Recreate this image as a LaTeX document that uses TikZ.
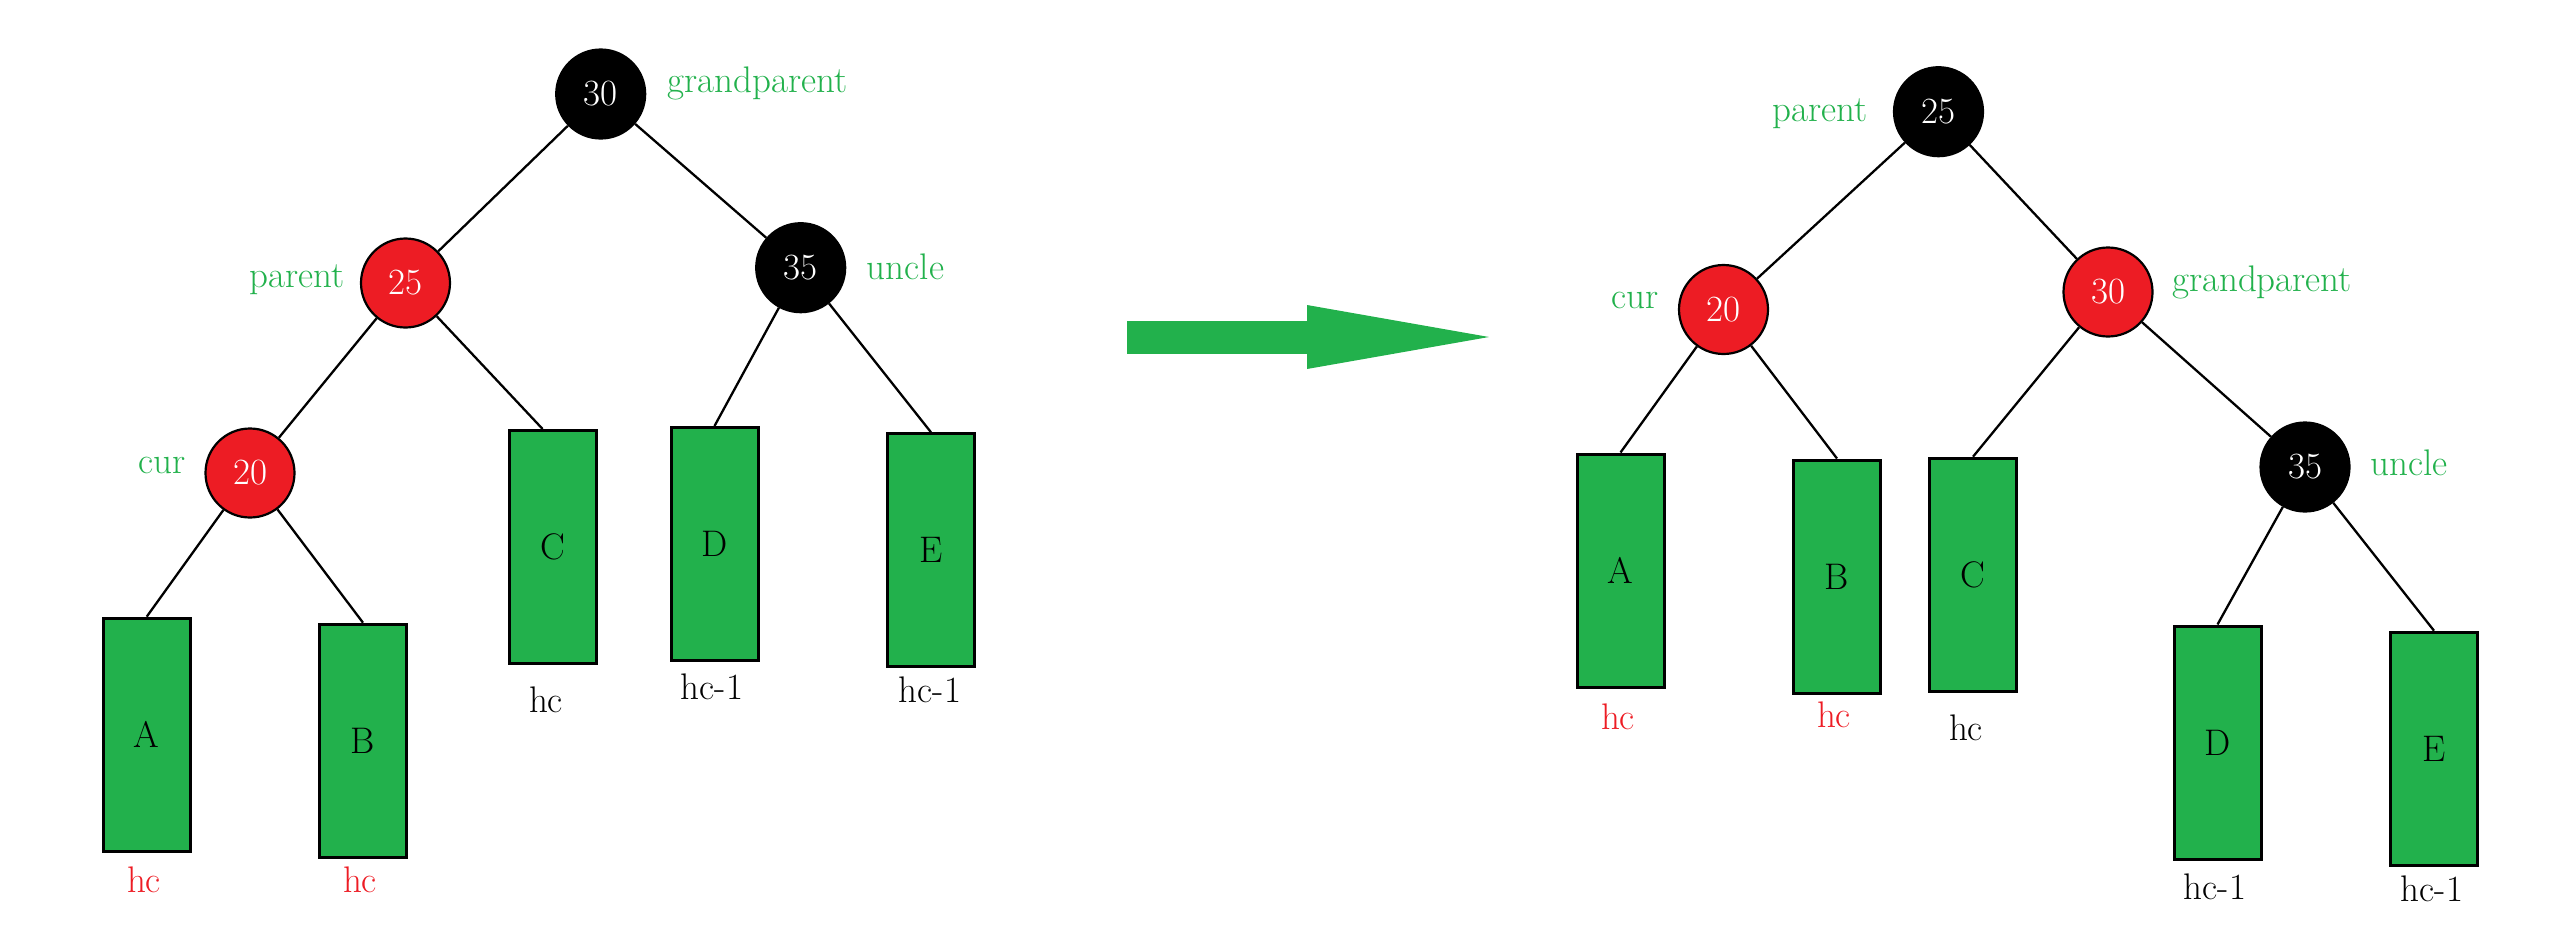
\documentclass[tikz,border=0pt]{standalone}
\usepackage{tikz}
\usetikzlibrary{arrows.meta}
\definecolor{rbred}{RGB}{237,28,36}
\definecolor{rbgreen}{RGB}{34,177,76}
\newcommand{\treefont}{\fontsize{37}{44}\selectfont}
\tikzset{
    rnode/.style={
        circle,
        draw,
        line width=2.2pt,
        fill=rbred,
        text=white,
        minimum size=89pt,
        inner sep=0pt,
        font=\treefont
    },
    bnode/.style={
        rnode,
        fill=black
    },
    sub/.style={
        draw,
        line width=3pt,
        fill=rbgreen,
        minimum width=87pt,
        minimum height=233pt,
        inner sep=0pt,
        font=\treefont
    },
    lbl/.style={text=rbgreen, inner sep=0pt, font=\treefont},
    hlbl/.style={inner sep=0pt, font=\treefont},
    link/.style={line width=2.3pt},
    bigarrow/.style={
        -{Triangle[length=182pt,width=64pt,line width=0pt]},
        line width=33pt,
        rbgreen
    }
}

\begin{document}
\begin{tikzpicture}[x=1pt,y=-1pt]
\useasboundingbox (0,0) rectangle (2573,943);

% before the rotation
\node[bnode] (g1) at (600.7,94) {30};
\node[rnode] (p1) at (405.5,283) {25};
\node[bnode] (u1) at (800.7,267.7) {35};
\node[rnode] (c1) at (250,473) {20};
\node[sub] (A1) at (146.7,734.7) {A};
\node[sub] (B1) at (363,740.7) {B};
\node[sub] (C1) at (552.6,547) {C};
\node[sub] (D1) at (714.5,544) {D};
\node[sub] (E1) at (931,550.3) {E};

\node[lbl] (g1l) at (757.5,83) {grandparent};
\node[lbl] (p1l) at (297.5,280) {parent};
\node[lbl] (u1l) at (905.5,266.7) {uncle};
\node[lbl] (c1l) at (161.7,465) {cur};

\node[hlbl, text=rbred] (A1h) at (144,880) {hc};
\node[hlbl, text=rbred] (B1h) at (360,880) {hc};
\node[hlbl] (C1h) at (546,700) {hc};
\node[hlbl] (D1h) at (712,687) {hc-1};
\node[hlbl] (E1h) at (930,690) {hc-1};

\draw[link] (g1) -- (p1);
\draw[link] (g1) -- (u1);
\draw[link] (p1) -- (c1);
\draw[link] (p1) -- ([xshift=-10pt]C1.north);
\draw[link] (c1) -- (A1.north);
\draw[link] (c1) -- (B1.north);
\draw[link] (u1) -- (D1.north);
\draw[link] (u1) -- (E1.north);

% rotation arrow
\coordinate (from) at (1127,337);
\coordinate (to) at (1489,337);
\draw[bigarrow] (from) -- (to);

% after the rotation
\node[bnode] (p2) at (1938.5,111.7) {25};
\node[rnode] (c2) at (1723.5,309.5) {20};
\node[rnode] (g2) at (2108,292) {30};
\node[bnode] (u2) at (2305,467) {35};
\node[sub] (A2) at (1620.5,570.5) {A};
\node[sub] (B2) at (1837,576.5) {B};
\node[sub] (C2) at (1973,574.7) {C};
\node[sub] (D2) at (2217.5,742.5) {D};
\node[sub] (E2) at (2434,748.7) {E};

\node[lbl] (p2l) at (1820,113.3) {parent};
\node[lbl] (c2l) at (1635,300) {cur};
\node[lbl] (g2l) at (2262,282) {grandparent};
\node[lbl] (u2l) at (2409,463.3) {uncle};

\node[hlbl, text=rbred] (A2h) at (1618,717) {hc};
\node[hlbl, text=rbred] (B2h) at (1834,715) {hc};
\node[hlbl] (C2h) at (1966,728) {hc};
\node[hlbl] (D2h) at (2215,887) {hc-1};
\node[hlbl] (E2h) at (2432,889) {hc-1};

\draw[link] (p2) -- (c2);
\draw[link] (p2) -- (g2);
\draw[link] (c2) -- (A2.north);
\draw[link] (c2) -- (B2.north);
\draw[link] (g2) -- (C2.north);
\draw[link] (g2) -- (u2);
\draw[link] (u2) -- (D2.north);
\draw[link] (u2) -- (E2.north);

\end{tikzpicture}
\end{document}
